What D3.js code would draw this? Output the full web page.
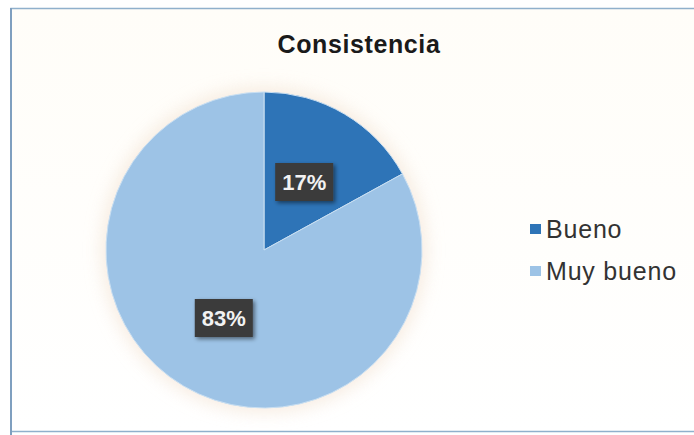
<!DOCTYPE html>
<html>
<head>
<meta charset="utf-8">
<script src="https://cdn.jsdelivr.net/npm/d3@7"></script>
<style>
  html, body { margin: 0; padding: 0; background: #ffffff; }
  svg { display: block; }
</style>
</head>
<body>
<svg id="chart" width="694" height="435"></svg>
<script>
// Chart data
const categories = ["Bueno", "Muy bueno"];
const values = [17, 83];
const labels = ["17%", "83%"];
const colors = ["#2e74b7", "#9dc3e6"];
const title = "Consistencia";

const svg = d3.select("#chart");
const W = 694, H = 435;
const FONT = "Liberation Sans, Arial, sans-serif";

const defs = svg.append("defs");

// soft halo around the pie
const halo = defs.append("filter").attr("id", "halo")
  .attr("x", "-20%").attr("y", "-20%").attr("width", "140%").attr("height", "140%");
halo.append("feGaussianBlur").attr("stdDeviation", 9);

// drop shadow for data label boxes
const shadow = defs.append("filter").attr("id", "lblShadow")
  .attr("x", "-30%").attr("y", "-30%").attr("width", "160%").attr("height", "160%");
shadow.append("feGaussianBlur").attr("in", "SourceAlpha").attr("stdDeviation", 2).attr("result", "b");
shadow.append("feOffset").attr("in", "b").attr("dx", 2).attr("dy", 2).attr("result", "o");
shadow.append("feComponentTransfer").attr("in", "o").attr("result", "s")
  .append("feFuncA").attr("type", "linear").attr("slope", 0.5);
const merge = shadow.append("feMerge");
merge.append("feMergeNode").attr("in", "s");
merge.append("feMergeNode").attr("in", "SourceGraphic");

// background and frame
const bgGrad = defs.append("linearGradient").attr("id", "bg").attr("x1", 0).attr("y1", 0).attr("x2", 0).attr("y2", 1);
bgGrad.append("stop").attr("offset", "0%").attr("stop-color", "#fffdf8");
bgGrad.append("stop").attr("offset", "100%").attr("stop-color", "#ffffff");
svg.append("rect").attr("x", 0).attr("y", 0).attr("width", W).attr("height", H).attr("fill", "#ffffff");
svg.append("rect").attr("x", 11).attr("y", 8.5).attr("width", W - 10).attr("height", H - 12)
  .attr("fill", "url(#bg)").attr("stroke", "#8fb0cc").attr("stroke-width", 1.5);
svg.append("line").attr("x1", 11).attr("x2", 11).attr("y1", 8).attr("y2", H)
  .attr("stroke", "#7f9fbf").attr("stroke-width", 2);

// title
svg.append("text")
  .attr("x", 359).attr("y", 53)
  .attr("text-anchor", "middle")
  .attr("font-family", FONT)
  .attr("font-weight", "bold")
  .attr("font-size", 25)
  .attr("letter-spacing", 0.6)
  .attr("fill", "#1a1a1a")
  .text(title);

// pie
const cx = 264, cy = 250, R = 158;
const pie = d3.pie().sort(null).value(d => d)(values);
const arc = d3.arc().innerRadius(0).outerRadius(R);

const g = svg.append("g").attr("transform", `translate(${cx},${cy})`);

g.append("circle").attr("r", R + 4).attr("fill", "#f4e6d8").attr("opacity", 0.8)
  .attr("filter", "url(#halo)");

g.selectAll("path.slice")
  .data(pie)
  .join("path")
  .attr("class", "slice")
  .attr("d", arc)
  .attr("fill", (d, i) => colors[i])
  .attr("stroke", "#c9dff2")
  .attr("stroke-width", 1);

// data labels
const lbl = g.selectAll("g.lbl")
  .data(pie)
  .join("g")
  .attr("class", "lbl")
  .attr("transform", d => {
    const [x, y] = arc.centroid(d);
    return `translate(${x},${y})`;
  });

const boxes = lbl.append("rect")
  .attr("fill", "#3b3b3b")
  .attr("filter", "url(#lblShadow)");

const texts = lbl.append("text")
  .attr("text-anchor", "middle")
  .attr("dy", "0.36em")
  .attr("font-family", FONT)
  .attr("font-weight", "bold")
  .attr("font-size", 22)
  .attr("fill", "#f2f2f2")
  .text((d, i) => labels[i]);

texts.each(function (d, i) {
  const w = this.getComputedTextLength() + 14;
  d3.select(boxes.nodes()[i])
    .attr("x", -w / 2).attr("y", -19)
    .attr("width", w).attr("height", 38);
});

// legend
const legend = svg.append("g").attr("transform", "translate(530,229)");
const item = legend.selectAll("g")
  .data(categories)
  .join("g")
  .attr("transform", (d, i) => `translate(0,${i * 42})`);

item.append("rect")
  .attr("x", 0).attr("y", -5).attr("width", 11).attr("height", 10)
  .attr("fill", (d, i) => colors[i]);

item.append("text")
  .attr("x", 16).attr("dy", "0.35em")
  .attr("font-family", FONT)
  .attr("font-size", 25)
  .attr("letter-spacing", 0.8)
  .attr("fill", "#333333")
  .text(d => d);
</script>
</body>
</html>
